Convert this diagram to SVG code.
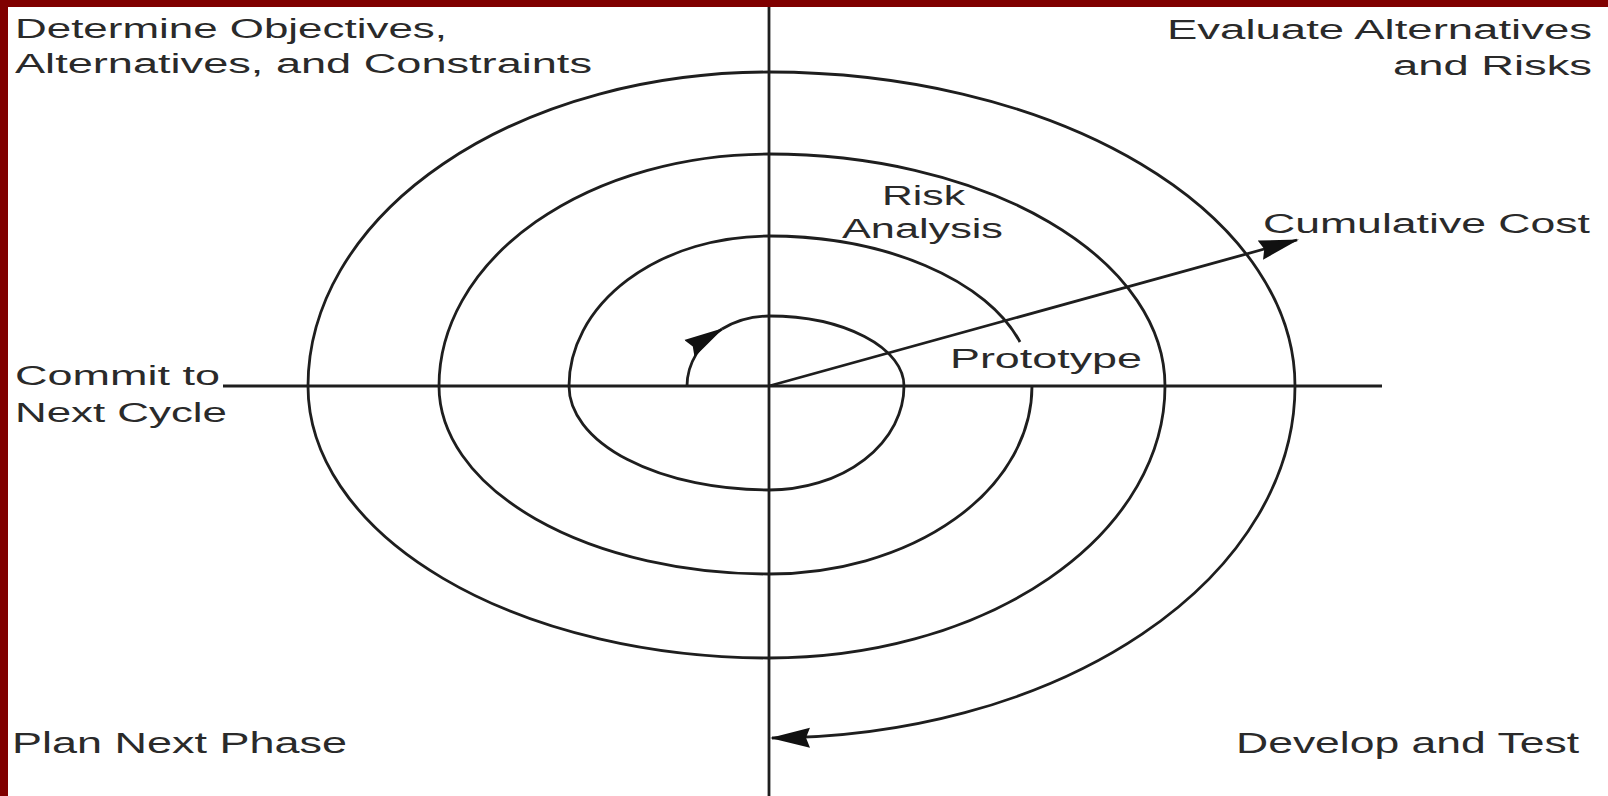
<svg xmlns="http://www.w3.org/2000/svg" width="1608" height="796" viewBox="0 0 1608 796">
  <style>
    .lbl { font-family: "Liberation Sans", Arial, sans-serif; font-size: 27px; fill: #2a2a2a; }
    .big { font-size: 29px; }
    .ln { fill: none; stroke: #1e1e1e; stroke-width: 2.8; }
  </style>
  <defs>
    <marker id="arr" markerUnits="userSpaceOnUse" markerWidth="40" markerHeight="22" viewBox="0 0 40 22" refX="38" refY="11" orient="auto">
      <path d="M0,1 L40,11 L0,21 L4,11 Z" fill="#111111"/>
    </marker>
  </defs>
  <rect x="0" y="0" width="1608" height="796" fill="#ffffff"/>
  <rect x="0" y="0" width="1608" height="7" fill="#800000"/>
  <rect x="0" y="0" width="8" height="796" fill="#800000"/>

  <g id="axes">
    <line class="ln" x1="769" y1="7" x2="769" y2="796"/>
    <line class="ln" x1="223" y1="386" x2="1382" y2="386"/>
  </g>

  <g id="connectors">
    <path class="ln" marker-end="url(#arr)" d="M687,386 A82,70 0 0 1 722,329"/>
    <path class="ln" d="M722,329 A82,70 0 0 1 769,316 A135,70 0 0 1 904,386 A135,104 0 0 1 769,490 A200,104 0 0 1 569,386 A200,150 0 0 1 769,236 A263,150 0 0 1 1020,342"/>
    <path class="ln" marker-end="url(#arr)" d="M1032,386 A263,188 0 0 1 769,574 A330,188 0 0 1 439,386 A330,232 0 0 1 769,154 A396,232 0 0 1 1165,386 A396,272 0 0 1 769,658 A461,272 0 0 1 308,386 A461,314 0 0 1 769,72 A526,314 0 0 1 1295,386 A526,352 0 0 1 772,738"/>
    <line class="ln" marker-end="url(#arr)" x1="769" y1="386" x2="1297" y2="240"/>
  </g>

  <g id="q-determine">
    <text class="lbl" x="15" y="38" textLength="432" lengthAdjust="spacingAndGlyphs">Determine Objectives,</text>
    <text class="lbl" x="15" y="73" textLength="577" lengthAdjust="spacingAndGlyphs">Alternatives, and Constraints</text>
  </g>
  <g id="q-evaluate">
    <text class="lbl" x="1167" y="39" textLength="425" lengthAdjust="spacingAndGlyphs">Evaluate Alternatives</text>
    <text class="lbl" x="1393" y="75" textLength="199" lengthAdjust="spacingAndGlyphs">and Risks</text>
  </g>
  <g id="risk-analysis">
    <text class="lbl" x="882" y="205" textLength="83" lengthAdjust="spacingAndGlyphs">Risk</text>
    <text class="lbl" x="842" y="238" textLength="161" lengthAdjust="spacingAndGlyphs">Analysis</text>
  </g>
  <g id="cumulative-cost">
    <text class="lbl" x="1263" y="233" textLength="327" lengthAdjust="spacingAndGlyphs">Cumulative Cost</text>
  </g>
  <g id="prototype">
    <text class="lbl" x="950" y="368" textLength="192" lengthAdjust="spacingAndGlyphs">Prototype</text>
  </g>
  <g id="q-commit">
    <text class="lbl" x="15" y="385" textLength="205" lengthAdjust="spacingAndGlyphs">Commit to</text>
    <text class="lbl" x="15" y="422" textLength="212" lengthAdjust="spacingAndGlyphs">Next Cycle</text>
  </g>
  <g id="q-plan">
    <text class="lbl big" x="12" y="753" textLength="335" lengthAdjust="spacingAndGlyphs">Plan Next Phase</text>
  </g>
  <g id="q-develop">
    <text class="lbl big" x="1236" y="753" textLength="343" lengthAdjust="spacingAndGlyphs">Develop and Test</text>
  </g>
</svg>
